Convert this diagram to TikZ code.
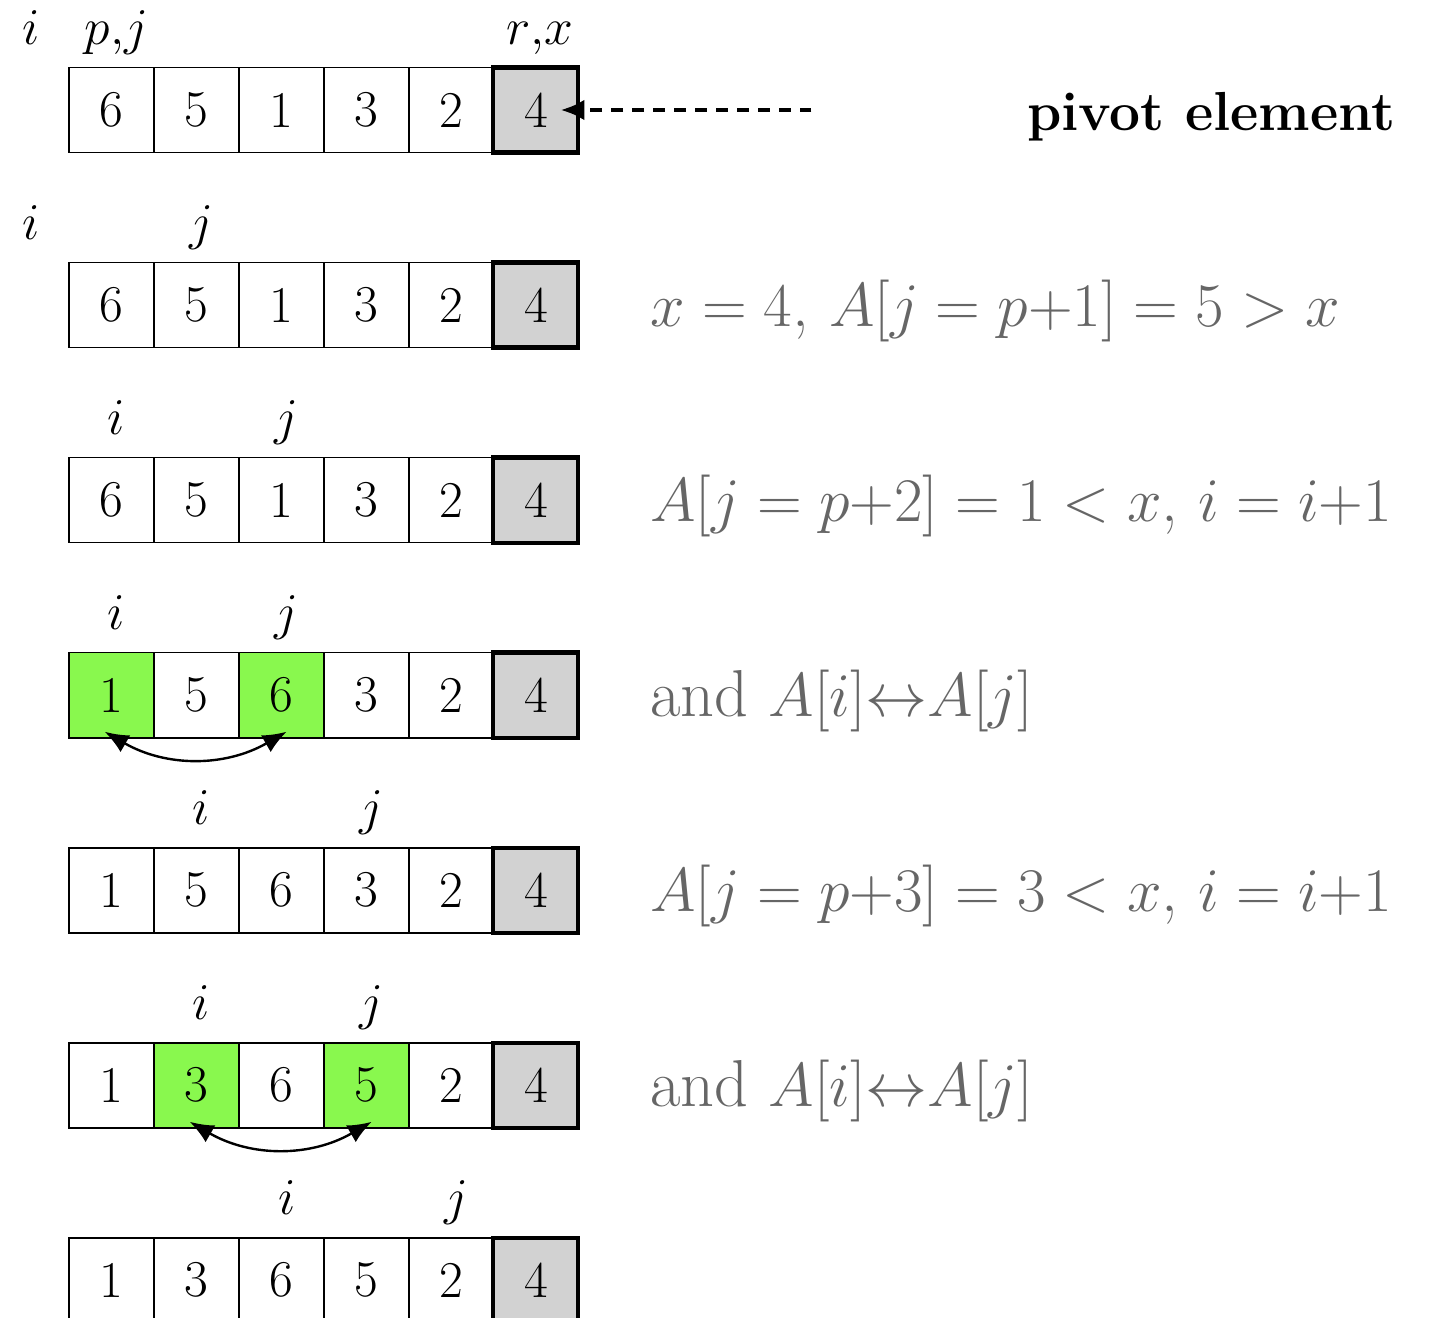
\documentclass[tikz,border=0pt]{standalone}
\usepackage{amsmath,amssymb}
\usepackage{xcolor}
\usetikzlibrary{arrows.meta,calc,positioning}
\definecolor{swapgreen}{RGB}{137,248,78}
\tikzset{
  cell/.style={draw,line width=0.6pt,minimum size=1cm,inner sep=0pt,outer sep=0pt,font=\LARGE},
  pivotcell/.style={cell,fill=gray!35,line width=1.4pt},
  idx/.style={anchor=base,font=\LARGE,inner sep=0pt},
  note/.style={anchor=base west,font=\fontsize{22.2}{27}\selectfont,text=black!60,inner sep=0pt},
  swaparrow/.style={{Latex[length=8pt,width=6.5pt]}-{Latex[length=8pt,width=6.5pt]},thick}
}

\begin{document}
\begin{tikzpicture}
  \useasboundingbox (0,0) rectangle (17.0,-15.495);
  % one array per step: row/values/green cells/i,j positions/j label
  \foreach \r/\vals/\gi/\gj/\il/\jl/\jt in {
      1/{6,5,1,3,2}/0/0/0/1/{$p{,}j$},
      2/{6,5,1,3,2}/0/0/0/2/{$j$},
      3/{6,5,1,3,2}/0/0/1/3/{$j$},
      4/{1,5,6,3,2}/1/3/1/3/{$j$},
      5/{1,5,6,3,2}/0/0/2/4/{$j$},
      6/{1,3,6,5,2}/2/4/2/4/{$j$},
      7/{1,3,6,5,2}/0/0/3/5/{$j$}}{
    \pgfmathsetmacro\ry{-1.293-2.293*(\r-1)}
    \foreach \v [count=\c] in \vals {
      \def\fillc{white}
      \ifnum\c=\gi\def\fillc{swapgreen}\fi
      \ifnum\c=\gj\def\fillc{swapgreen}\fi
      \node[cell,fill=\fillc] (c\r\c) at (\c+0.31,\ry) {\v};
    }
    \node[pivotcell] (c\r6) at (6.3,\ry) {4};
    \node[idx] (i\r) at (\il+0.37,\ry+0.77) {$i$};
    \node[idx] (j\r) at (\jl+0.37,\ry+0.77) {\jt};
  }
  \node[idx] (rx) at (6.35,-1.293+0.77) {$r{,}x$};

  % pivot
  \coordinate (ptail) at ([xshift=2.74cm]c16.east);
  \draw[line width=1.6pt,dash pattern=on 4pt off 3pt,-{Latex[length=8pt,width=7pt]},shorten >=-6pt]
    (ptail) -- (c16.east);
  \node[anchor=base,font=\fontsize{18.4}{22}\selectfont\bfseries] (pivlbl) at (14.24,-1.293-0.24) {pivot element};

  % comments on the steps
  \node[note] (n2) at ([xshift=0.84cm,yshift=-0.25cm]c26.east) {$x = 4$, $A[j = p{+}1] = 5 > x$};
  \node[note] (n3) at ([xshift=0.84cm,yshift=-0.25cm]c36.east) {$A[j = p{+}2] = 1 < x$, $i = i{+}1$};
  \node[note] (n4) at ([xshift=0.84cm,yshift=-0.25cm]c46.east) {and $A[i]{\leftrightarrow}A[j]$};
  \node[note] (n5) at ([xshift=0.84cm,yshift=-0.25cm]c56.east) {$A[j = p{+}3] = 3 < x$, $i = i{+}1$};
  \node[note] (n6) at ([xshift=0.84cm,yshift=-0.25cm]c66.east) {and $A[i]{\leftrightarrow}A[j]$};

  % swaps
  \draw[swaparrow] ([xshift=-0.08cm,yshift=0.07cm]c41.south) to[bend right] ([xshift=0.06cm,yshift=0.07cm]c43.south);
  \draw[swaparrow] ([xshift=-0.08cm,yshift=0.07cm]c62.south) to[bend right] ([xshift=0.06cm,yshift=0.07cm]c64.south);
\end{tikzpicture}
\end{document}
